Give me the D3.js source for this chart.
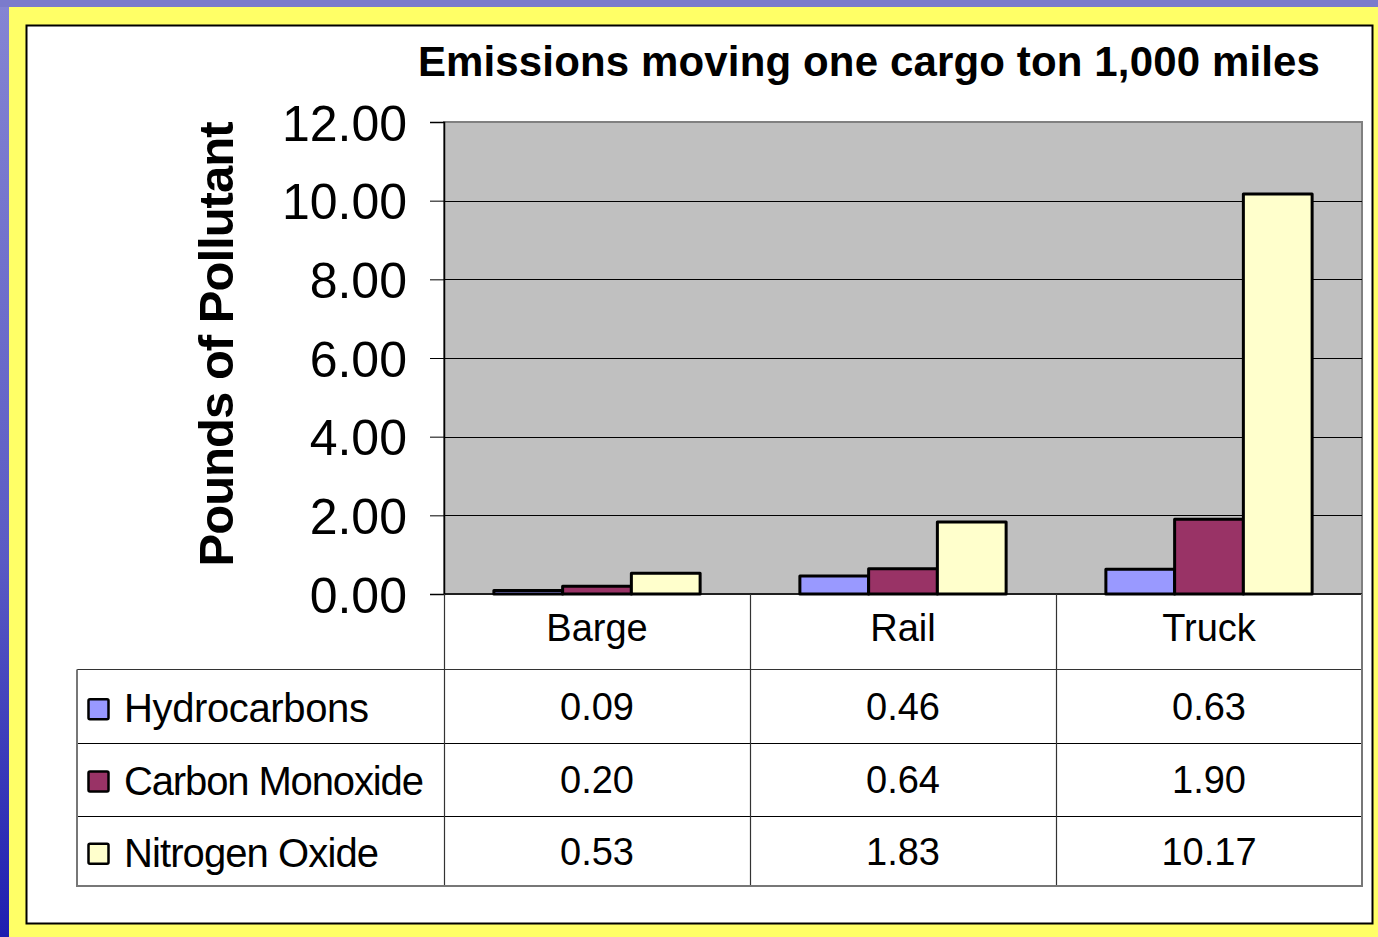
<!DOCTYPE html>
<html><head><meta charset="utf-8">
<script src="https://cdn.jsdelivr.net/npm/d3@7"></script>
<style>html,body{margin:0;padding:0;overflow:hidden;background:#fff}</style>
</head><body>
<svg id="c" width="1378" height="937"></svg>
<script>
const title = "Emissions moving one cargo ton 1,000 miles";
const yTitle = "Pounds of Pollutant";
const categories = ["Barge", "Rail", "Truck"];
const seriesNames = ["Hydrocarbons", "Carbon Monoxide", "Nitrogen Oxide"];
const hydrocarbons = [0.09, 0.46, 0.63];
const carbonMonoxide = [0.20, 0.64, 1.90];
const nitrogenOxide = [0.53, 1.83, 10.17];
const seriesLabels = [["0.09","0.46","0.63"],["0.20","0.64","1.90"],["0.53","1.83","10.17"]];
const yTicks = [0, 2, 4, 6, 8, 10, 12];
const colors = ["#9999ff", "#993366", "#ffffcc"];

const seriesValues = [hydrocarbons, carbonMonoxide, nitrogenOxide];
const svg = d3.select("#c");
const font = "'Liberation Sans', Arial, sans-serif";

// background
const defs = svg.append("defs");
const g1 = defs.append("linearGradient").attr("id","lg").attr("x1",0).attr("y1",0).attr("x2",0).attr("y2",1);
g1.append("stop").attr("offset","0%").attr("stop-color","#8585d3");
g1.append("stop").attr("offset","60%").attr("stop-color","#5a5ac4");
g1.append("stop").attr("offset","100%").attr("stop-color","#1e1eb0");
svg.append("rect").attr("x",0).attr("y",0).attr("width",1378).attr("height",937).attr("fill","url(#lg)");
svg.append("rect").attr("x",0).attr("y",0).attr("width",1378).attr("height",7).attr("fill","#7b7bcc");
svg.append("rect").attr("x",9).attr("y",7).attr("width",1369).attr("height",930).attr("fill","#ffff66");
svg.append("rect").attr("x",26.5).attr("y",25.5).attr("width",1346).attr("height",898).attr("fill","#fff").attr("stroke","#000").attr("stroke-width",2);

// scales
const plot = {l:444, r:1362, t:122, b:594};
const x0 = d3.scaleBand().domain(categories).range([plot.l, plot.r]).paddingInner(0).paddingOuter(0);
const bw = x0.bandwidth();
const x1 = d3.scaleBand().domain(seriesNames).range([bw*0.163, bw*0.837]).padding(0);
const y = d3.scaleLinear().domain([0, 12]).range([plot.b, plot.t]);

// plot area
svg.append("rect").attr("x",plot.l).attr("y",plot.t).attr("width",plot.r-plot.l).attr("height",plot.b-plot.t)
  .attr("fill","#c0c0c0").attr("stroke","#808080").attr("stroke-width",2);

// gridlines
svg.append("g").selectAll("line").data(yTicks.filter(d=>d>0 && d<12)).join("line")
  .attr("x1",plot.l).attr("x2",plot.r).attr("y1",d=>Math.round(y(d))+0.5).attr("y2",d=>Math.round(y(d))+0.5)
  .attr("stroke","#000").attr("stroke-width",1);

// y axis
const yAxis = d3.axisLeft(y).tickValues(yTicks).tickFormat(d3.format(".2f")).tickSize(14).tickPadding(23);
const ya = svg.append("g").attr("transform",`translate(${plot.l},0)`).call(yAxis);
ya.select(".domain").attr("stroke","#000").attr("stroke-width",1.5);
ya.selectAll(".tick line").attr("stroke","#000").attr("stroke-width",1);
ya.selectAll(".tick text").attr("font-family",font).attr("font-size",50).attr("fill","#000").attr("dy","0.36em");

// bars
const barData = [];
categories.forEach((c,ci)=>seriesNames.forEach((s,si)=>barData.push({c, s, si, v: seriesValues[si][ci]})));
svg.append("g").selectAll("rect").data(barData).join("rect")
  .attr("x",d=>x0(d.c)+x1(d.s)).attr("width",x1.bandwidth())
  .attr("y",d=>y(d.v)).attr("height",d=>y(0)-y(d.v))
  .attr("fill",d=>colors[d.si]).attr("stroke","#000").attr("stroke-width",3).attr("stroke-linejoin","round");

// fit helper
function fit(sel, target){
  const n = sel.text().length;
  const w = sel.node().getComputedTextLength();
  sel.attr("letter-spacing", ((target - w)/(n-1)).toFixed(2)+"px");
}

// data table
const tbl = svg.append("g");
const rowY = d3.scaleBand().domain(seriesNames).range([669, 886]);
const tableLeft = 77;
tbl.append("line").attr("x1",plot.l).attr("x2",plot.r).attr("y1",plot.b).attr("y2",plot.b).attr("stroke","#000").attr("stroke-width",1.5);
seriesNames.forEach((s,i)=>{
  if(i===0) return;
  tbl.append("line").attr("x1",tableLeft).attr("x2",plot.r).attr("y1",Math.round(rowY(s))+2.5).attr("y2",Math.round(rowY(s))+2.5).attr("stroke","#000").attr("stroke-width",1);
});
tbl.append("line").attr("x1",tableLeft).attr("x2",plot.r).attr("y1",669.5).attr("y2",669.5).attr("stroke","#333").attr("stroke-width",1.2);
categories.forEach(c=>{
  tbl.append("line").attr("x1",Math.round(x0(c))+0.5).attr("x2",Math.round(x0(c))+0.5).attr("y1",plot.b).attr("y2",886).attr("stroke","#333").attr("stroke-width",1.2);
});
tbl.append("path").attr("d",`M${tableLeft},669.5 V886 H${plot.r} V${plot.b}`).attr("fill","none").attr("stroke","#777").attr("stroke-width",2);

// category labels
tbl.selectAll("text.cat").data(categories).join("text").attr("class","cat")
  .attr("x",d=>x0(d)+bw/2).attr("y",641).attr("text-anchor","middle")
  .attr("font-family",font).attr("font-size",38).attr("fill","#000").text(d=>d);

const legendWidths = [245, 300, 255];
seriesNames.forEach((s,si)=>{
  const cy = rowY(s)+rowY.bandwidth()/2;
  categories.forEach((c,ci)=>{
    tbl.append("text").attr("x",x0(c)+bw/2).attr("y",cy+15)
      .attr("text-anchor","middle").attr("font-family",font).attr("font-size",38).attr("fill","#000")
      .text(seriesLabels[si][ci]);
  });
  tbl.append("rect").attr("x",88.5).attr("y",cy-6).attr("width",20).attr("height",20)
    .attr("fill",colors[si]).attr("stroke","#000").attr("stroke-width",2.5).attr("rx",1.5);
  const lt = tbl.append("text").attr("x",124).attr("y",cy+17)
    .attr("font-family",font).attr("font-size",40).attr("fill","#000").text(s);
  fit(lt, legendWidths[si]);
});

// title
const t = svg.append("text").attr("x",869).attr("y",76).attr("text-anchor","middle")
  .attr("font-family",font).attr("font-weight","bold").attr("font-size",42).attr("fill","#000").text(title);
fit(t, 902);

// y title
const yt = svg.append("text").attr("transform","translate(233,344.5) rotate(-90)").attr("text-anchor","middle")
  .attr("font-family",font).attr("font-weight","bold").attr("font-size",49).attr("fill","#000").text(yTitle);
fit(yt, 445);
</script>
</body></html>
